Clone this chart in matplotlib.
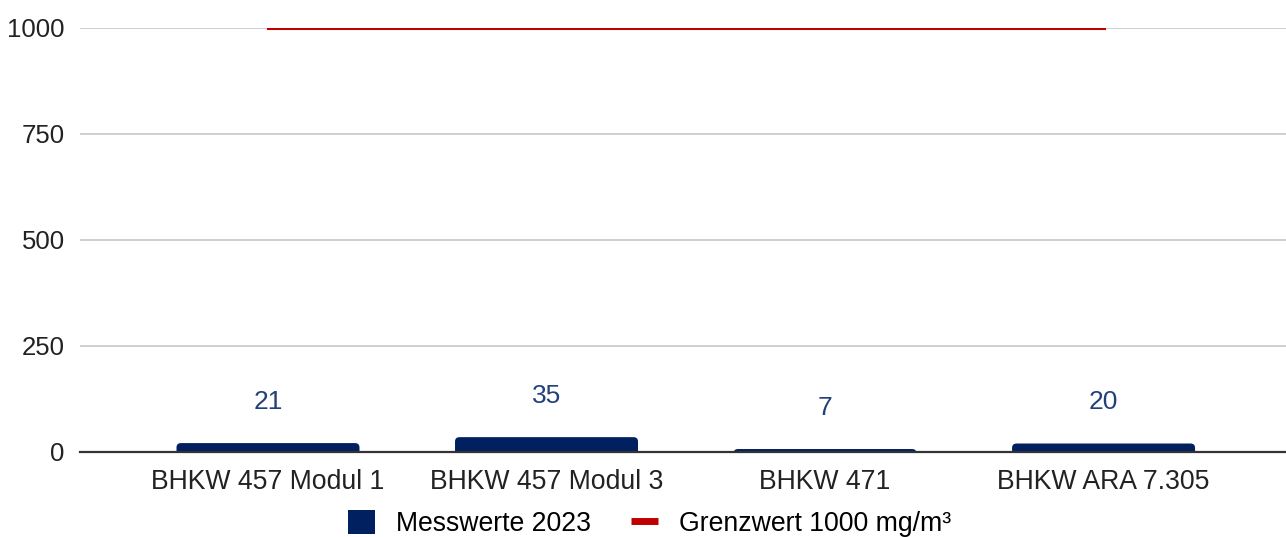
import matplotlib
matplotlib.use("Agg")
import matplotlib.pyplot as plt
from matplotlib.patches import FancyBboxPatch, Patch
from matplotlib.lines import Line2D

# data
categories = ["BHKW 457 Modul 1", "BHKW 457 Modul 3", "BHKW 471", "BHKW ARA 7.305"]
messwerte = [21, 35, 7, 20]
grenzwert = [1000, 1000, 1000, 1000]
y_ticks = [0, 250, 500, 750, 1000]

bar_color = "#002060"
line_color = "#c00000"
label_color = "#23407a"

plt.rcParams["font.family"] = ["Liberation Sans", "DejaVu Sans"]
plt.rcParams["font.size"] = 18.5

fig = plt.figure(figsize=(12.86, 5.37), dpi=100)
ax = fig.add_axes([0.0622, 0.1583, 0.9378, 0.7896])

x = list(range(len(categories)))
bars = ax.bar(x, messwerte, width=0.657, color=bar_color, zorder=3)

# round the top corners (bar starts below the axis, bottom gets clipped)
for b in bars:
    bx, bw, bh = b.get_x(), b.get_width(), b.get_height()
    b.remove()
    p = FancyBboxPatch((bx, -20), bw, bh + 20,
                       boxstyle="round,pad=0,rounding_size=0.016",
                       mutation_aspect=650, fc=bar_color, ec="none", zorder=3)
    ax.add_patch(p)

ax.plot(x, grenzwert, color=line_color, lw=2.2, zorder=4)

for xi, v in zip(x, messwerte):
    ax.text(xi, v + 97, str(v), ha="center", va="center", color=label_color, fontsize=19)

ax.set_xlim(-0.675, 3.655)
ax.set_ylim(0, 1000)
ax.set_yticks(y_ticks)
ax.set_xticks(x)
ax.set_xticklabels(categories, fontsize=19.2)
ax.tick_params(axis="both", length=0, colors="#222222")
ax.tick_params(axis="x", pad=12)
ax.tick_params(axis="y", pad=11)
ax.grid(axis="y", color="#cccccc", lw=1.3, zorder=0)
ax.set_axisbelow(True)
for s in ["top", "right", "left"]:
    ax.spines[s].set_visible(False)
ax.spines["bottom"].set_color("#333333")
ax.spines["bottom"].set_linewidth(1.6)
ax.spines["bottom"].set_zorder(5)

handles = [Patch(facecolor=bar_color, edgecolor="none"),
           Line2D([0], [0], color=line_color, lw=5, solid_capstyle="butt")]
fig.legend(handles, ["Messwerte 2023", "Grenzwert 1000 mg/m³"],
           loc="center", bbox_to_anchor=(0.505, 0.025), ncol=2, frameon=False,
           fontsize=19.2, handlelength=1.0, handleheight=1.0,
           handletextpad=0.8, columnspacing=1.5)

fig.savefig("out.png", dpi=100)
